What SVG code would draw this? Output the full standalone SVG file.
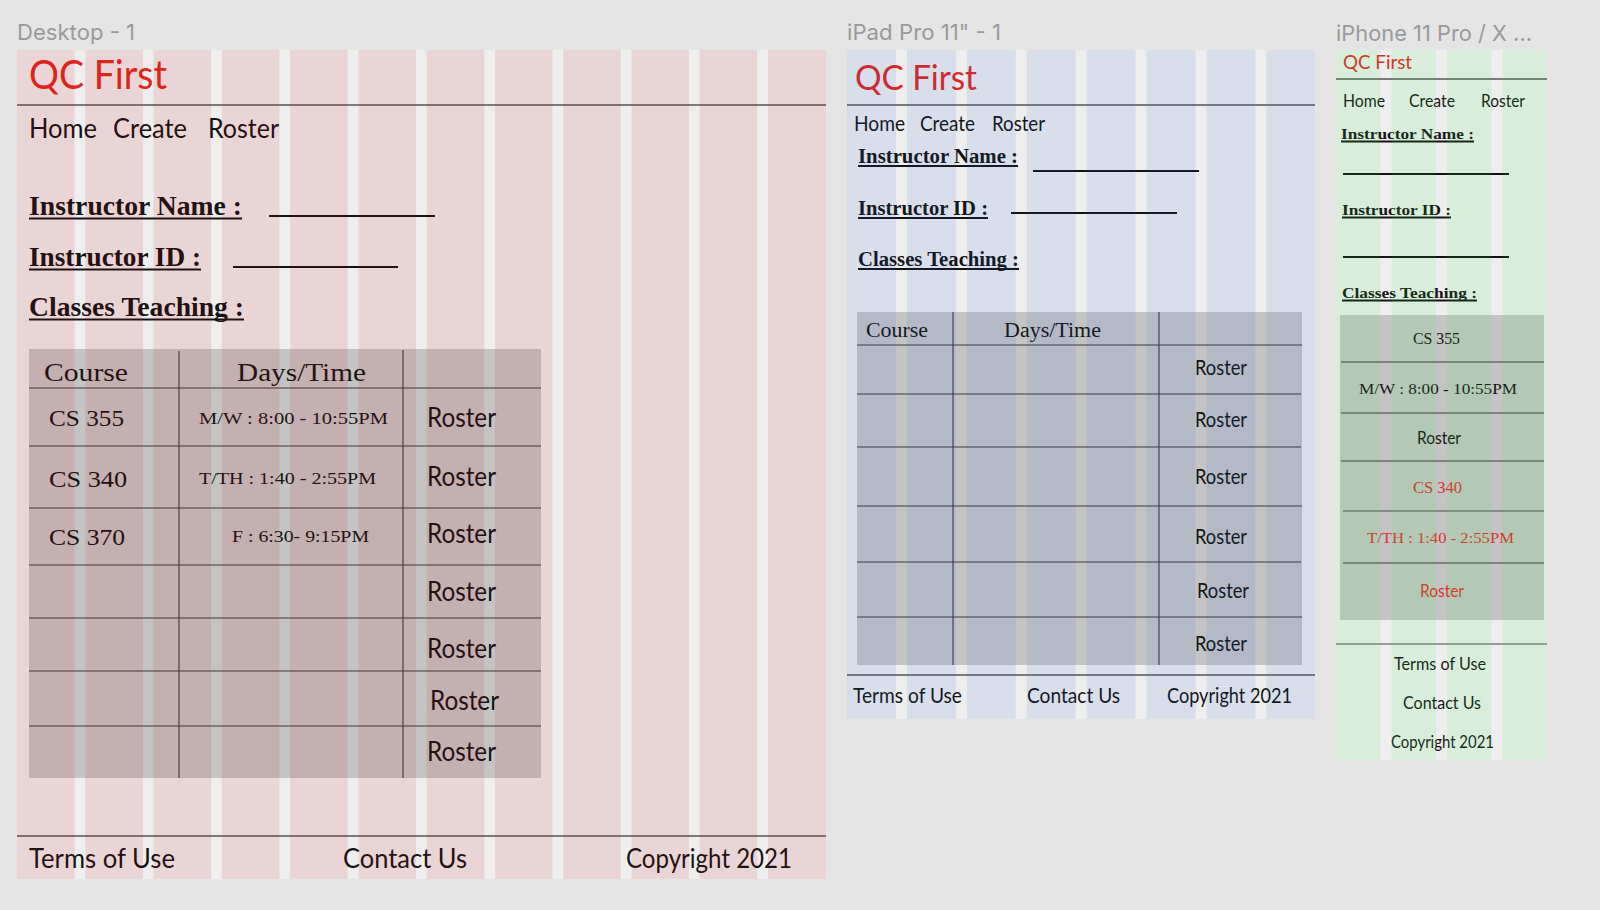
<svg xmlns="http://www.w3.org/2000/svg" width="1600" height="910" viewBox="0 0 1600 910">
<style>
.lbl{font-family:Inter,"Noto Sans",sans-serif;font-size:22px;fill:#9a9a9a}
.logo{font-family:Lato,"Open Sans",sans-serif;fill:#e0281e}
.sans{font-family:Lato,"Open Sans",sans-serif;fill:#141414}
.serif{font-family:"Liberation Serif","DejaVu Serif",serif;fill:#141414}
.b{font-weight:bold}
.red{fill:#d9342b}
.frame{fill:#eeeeee}
.tbl{fill:#c4c4c4}
.rule{stroke:#555;stroke-width:1.3}
.tl{stroke:#3e3a3a;stroke-width:1.1}
.ul{stroke:#141414;stroke-width:1.8}
.blank{stroke:#141414;stroke-width:2}
.colD{fill:#c40000;fill-opacity:0.1}
.colT{fill:#1a5ad0;fill-opacity:0.1}
.colP{fill:#2bf036;fill-opacity:0.1}
</style>
<rect width="1600" height="910" fill="#e5e5e5"/>

<!-- Desktop -->
<g id="desktop">
  <text class="lbl" x="17" y="40" textLength="118" lengthAdjust="spacingAndGlyphs">Desktop - 1</text>
  <rect class="frame" x="17" y="50" width="809" height="829"/>
  <g id="d-header">
    <text class="logo" x="29" y="89" font-size="40" textLength="138" lengthAdjust="spacingAndGlyphs">QC First</text>
    <line class="rule" x1="17" y1="105" x2="826" y2="105"/>
  </g>
  <g id="d-nav" class="sans" font-size="27">
    <text class="sans" x="29" y="138" textLength="68" lengthAdjust="spacingAndGlyphs">Home</text>
    <text class="sans" x="113" y="138" textLength="74" lengthAdjust="spacingAndGlyphs">Create</text>
    <text class="sans" x="208" y="138" textLength="71" lengthAdjust="spacingAndGlyphs">Roster</text>
  </g>
  <g id="d-form" font-size="27">
    <text class="serif b" x="29" y="215" textLength="213" lengthAdjust="spacingAndGlyphs">Instructor Name :</text>
    <line class="ul" x1="29" y1="218.5" x2="242" y2="218.5"/>
    <line class="blank" x1="269" y1="216" x2="435" y2="216"/>
    <text class="serif b" x="29" y="266" textLength="172" lengthAdjust="spacingAndGlyphs">Instructor ID :</text>
    <line class="ul" x1="29" y1="269.5" x2="201" y2="269.5"/>
    <line class="blank" x1="233" y1="267" x2="398" y2="267"/>
    <text class="serif b" x="29" y="316" textLength="215" lengthAdjust="spacingAndGlyphs">Classes Teaching :</text>
    <line class="ul" x1="29" y1="319.5" x2="244" y2="319.5"/>
  </g>
  <g id="d-table">
    <rect class="tbl" x="29" y="349" width="512" height="429"/>
    <line class="tl" x1="29" y1="388" x2="541" y2="388"/>
    <line class="tl" x1="29" y1="446" x2="541" y2="446"/>
    <line class="tl" x1="29" y1="508" x2="541" y2="508"/>
    <line class="tl" x1="29" y1="565" x2="541" y2="565"/>
    <line class="tl" x1="29" y1="618" x2="541" y2="618"/>
    <line class="tl" x1="29" y1="671" x2="541" y2="671"/>
    <line class="tl" x1="29" y1="726" x2="541" y2="726"/>
    <line class="tl" x1="179" y1="351" x2="179" y2="778"/>
    <line class="tl" x1="403" y1="350" x2="403" y2="778"/>
    <text class="serif" x="44" y="381" font-size="25" textLength="84" lengthAdjust="spacingAndGlyphs">Course</text>
    <text class="serif" x="237" y="381" font-size="25" textLength="129" lengthAdjust="spacingAndGlyphs">Days/Time</text>
    <text class="serif" x="49" y="426" font-size="24" textLength="75" lengthAdjust="spacingAndGlyphs">CS 355</text>
    <text class="serif" x="49" y="487" font-size="24" textLength="78" lengthAdjust="spacingAndGlyphs">CS 340</text>
    <text class="serif" x="49" y="545" font-size="24" textLength="76" lengthAdjust="spacingAndGlyphs">CS 370</text>
    <text class="serif" x="199" y="424" font-size="17" textLength="189" lengthAdjust="spacingAndGlyphs">M/W : 8:00 - 10:55PM</text>
    <text class="serif" x="199" y="484" font-size="17" textLength="177" lengthAdjust="spacingAndGlyphs">T/TH : 1:40 - 2:55PM</text>
    <text class="serif" x="232" y="542" font-size="17" textLength="137" lengthAdjust="spacingAndGlyphs">F : 6:30- 9:15PM</text>
    <g font-size="27">
      <text class="sans" x="427" y="427" textLength="69" lengthAdjust="spacingAndGlyphs">Roster</text>
      <text class="sans" x="427" y="486" textLength="69" lengthAdjust="spacingAndGlyphs">Roster</text>
      <text class="sans" x="427" y="543" textLength="69" lengthAdjust="spacingAndGlyphs">Roster</text>
      <text class="sans" x="427" y="601" textLength="69" lengthAdjust="spacingAndGlyphs">Roster</text>
      <text class="sans" x="427" y="658" textLength="69" lengthAdjust="spacingAndGlyphs">Roster</text>
      <text class="sans" x="430" y="710" textLength="69" lengthAdjust="spacingAndGlyphs">Roster</text>
      <text class="sans" x="427" y="761" textLength="69" lengthAdjust="spacingAndGlyphs">Roster</text>
    </g>
  </g>
  <g id="d-footer" font-size="27">
    <line class="rule" x1="17" y1="836" x2="826" y2="836"/>
    <text class="sans" x="29" y="868" textLength="146" lengthAdjust="spacingAndGlyphs">Terms of Use</text>
    <text class="sans" x="343" y="868" textLength="124" lengthAdjust="spacingAndGlyphs">Contact Us</text>
    <text class="sans" x="626" y="868" textLength="166" lengthAdjust="spacingAndGlyphs">Copyright 2021</text>
  </g>
  <g id="d-grid">
    <rect class="colD" x="17" y="50" width="57.6" height="829"/>
    <rect class="colD" x="85.3" y="50" width="57.6" height="829"/>
    <rect class="colD" x="153.5" y="50" width="57.6" height="829"/>
    <rect class="colD" x="221.8" y="50" width="57.6" height="829"/>
    <rect class="colD" x="290.1" y="50" width="57.6" height="829"/>
    <rect class="colD" x="358.4" y="50" width="57.6" height="829"/>
    <rect class="colD" x="426.6" y="50" width="57.6" height="829"/>
    <rect class="colD" x="494.9" y="50" width="57.6" height="829"/>
    <rect class="colD" x="563.2" y="50" width="57.6" height="829"/>
    <rect class="colD" x="631.4" y="50" width="57.6" height="829"/>
    <rect class="colD" x="699.7" y="50" width="57.6" height="829"/>
    <rect class="colD" x="768" y="50" width="58" height="829"/>
  </g>
</g>

<!-- iPad -->
<g id="ipad">
  <text class="lbl" x="847" y="40" textLength="154" lengthAdjust="spacingAndGlyphs">iPad Pro 11&quot; - 1</text>
  <rect class="frame" x="847" y="50" width="468" height="669"/>
  <g id="t-header">
    <text class="logo" x="855" y="90" font-size="35" textLength="122" lengthAdjust="spacingAndGlyphs">QC First</text>
    <line class="rule" x1="847" y1="105" x2="1315" y2="105"/>
  </g>
  <g id="t-nav" font-size="21">
    <text class="sans" x="854" y="131" textLength="51" lengthAdjust="spacingAndGlyphs">Home</text>
    <text class="sans" x="920" y="131" textLength="55" lengthAdjust="spacingAndGlyphs">Create</text>
    <text class="sans" x="992" y="131" textLength="53" lengthAdjust="spacingAndGlyphs">Roster</text>
  </g>
  <g id="t-form" font-size="20">
    <text class="serif b" x="858" y="163" textLength="160" lengthAdjust="spacingAndGlyphs">Instructor Name :</text>
    <line class="ul" x1="858" y1="166" x2="1018" y2="166"/>
    <line class="blank" x1="1033" y1="171" x2="1199" y2="171"/>
    <text class="serif b" x="858" y="215" textLength="130" lengthAdjust="spacingAndGlyphs">Instructor ID :</text>
    <line class="ul" x1="858" y1="218" x2="988" y2="218"/>
    <line class="blank" x1="1011" y1="213" x2="1177" y2="213"/>
    <text class="serif b" x="858" y="266" textLength="161" lengthAdjust="spacingAndGlyphs">Classes Teaching :</text>
    <line class="ul" x1="858" y1="269" x2="1019" y2="269"/>
  </g>
  <g id="t-table">
    <rect class="tbl" x="857" y="312" width="445" height="353"/>
    <line class="tl" x1="857" y1="345" x2="1302" y2="345"/>
    <line class="tl" x1="857" y1="394" x2="1301" y2="394"/>
    <line class="tl" x1="857" y1="447" x2="1301" y2="447"/>
    <line class="tl" x1="857" y1="506" x2="1302" y2="506"/>
    <line class="tl" x1="857" y1="562" x2="1301" y2="562"/>
    <line class="tl" x1="857" y1="617" x2="1302" y2="617"/>
    <line class="tl" x1="953" y1="312" x2="953" y2="665"/>
    <line class="tl" x1="1159" y1="312" x2="1159" y2="665"/>
    <text class="serif" x="866" y="337" font-size="20" textLength="62" lengthAdjust="spacingAndGlyphs">Course</text>
    <text class="serif" x="1004" y="337" font-size="20" textLength="97" lengthAdjust="spacingAndGlyphs">Days/Time</text>
    <g font-size="21">
      <text class="sans" x="1195" y="375" textLength="52" lengthAdjust="spacingAndGlyphs">Roster</text>
      <text class="sans" x="1195" y="427" textLength="52" lengthAdjust="spacingAndGlyphs">Roster</text>
      <text class="sans" x="1195" y="484" textLength="52" lengthAdjust="spacingAndGlyphs">Roster</text>
      <text class="sans" x="1195" y="544" textLength="52" lengthAdjust="spacingAndGlyphs">Roster</text>
      <text class="sans" x="1197" y="598" textLength="52" lengthAdjust="spacingAndGlyphs">Roster</text>
      <text class="sans" x="1195" y="651" textLength="52" lengthAdjust="spacingAndGlyphs">Roster</text>
    </g>
  </g>
  <g id="t-footer" font-size="21">
    <line class="rule" x1="847" y1="675" x2="1315" y2="675"/>
    <text class="sans" x="853" y="703" textLength="109" lengthAdjust="spacingAndGlyphs">Terms of Use</text>
    <text class="sans" x="1027" y="703" textLength="93" lengthAdjust="spacingAndGlyphs">Contact Us</text>
    <text class="sans" x="1167" y="703" textLength="125" lengthAdjust="spacingAndGlyphs">Copyright 2021</text>
  </g>
  <g id="t-grid">
    <rect class="colT" x="847" y="50" width="49" height="669"/>
    <rect class="colT" x="906.9" y="50" width="49" height="669"/>
    <rect class="colT" x="966.8" y="50" width="49" height="669"/>
    <rect class="colT" x="1026.7" y="50" width="49" height="669"/>
    <rect class="colT" x="1086.6" y="50" width="49" height="669"/>
    <rect class="colT" x="1146.5" y="50" width="49" height="669"/>
    <rect class="colT" x="1206.4" y="50" width="49" height="669"/>
    <rect class="colT" x="1266.3" y="50" width="48.7" height="669"/>
  </g>
</g>

<!-- iPhone -->
<g id="iphone">
  <text class="lbl" x="1336" y="41" textLength="196" lengthAdjust="spacingAndGlyphs">iPhone 11 Pro / X ...</text>
  <rect class="frame" x="1336" y="50" width="211" height="710"/>
  <g id="p-header">
    <text class="logo" x="1343" y="69" font-size="20" textLength="69" lengthAdjust="spacingAndGlyphs">QC First</text>
    <line class="rule" x1="1336" y1="79" x2="1547" y2="79"/>
  </g>
  <g id="p-nav" font-size="17">
    <text class="sans" x="1343" y="107" textLength="42" lengthAdjust="spacingAndGlyphs">Home</text>
    <text class="sans" x="1409" y="107" textLength="46" lengthAdjust="spacingAndGlyphs">Create</text>
    <text class="sans" x="1481" y="107" textLength="44" lengthAdjust="spacingAndGlyphs">Roster</text>
  </g>
  <g id="p-form" font-size="15">
    <text class="serif b" x="1341" y="139" textLength="133" lengthAdjust="spacingAndGlyphs">Instructor Name :</text>
    <line class="ul" x1="1341" y1="141.5" x2="1474" y2="141.5" stroke-width="1.5"/>
    <line class="blank" x1="1343" y1="174" x2="1509" y2="174"/>
    <text class="serif b" x="1342" y="215" textLength="109" lengthAdjust="spacingAndGlyphs">Instructor ID :</text>
    <line class="ul" x1="1342" y1="217.5" x2="1451" y2="217.5" stroke-width="1.5"/>
    <line class="blank" x1="1343" y1="257" x2="1509" y2="257"/>
    <text class="serif b" x="1342" y="298" textLength="135" lengthAdjust="spacingAndGlyphs">Classes Teaching :</text>
    <line class="ul" x1="1342" y1="300.5" x2="1477" y2="300.5" stroke-width="1.5"/>
  </g>
  <g id="p-table">
    <rect class="tbl" x="1340" y="315" width="204" height="305"/>
    <line class="tl" x1="1341" y1="362" x2="1544" y2="362"/>
    <line class="tl" x1="1341" y1="413" x2="1544" y2="413"/>
    <line class="tl" x1="1341" y1="461" x2="1544" y2="461"/>
    <line x1="1343" y1="511" x2="1544" y2="511" stroke="#6f7a70" stroke-width="1.6"/>
    <line class="tl" x1="1343" y1="563" x2="1544" y2="563"/>
    <text class="serif" x="1413" y="344" font-size="16" textLength="47" lengthAdjust="spacingAndGlyphs">CS 355</text>
    <text class="serif" x="1359" y="394" font-size="15" textLength="158" lengthAdjust="spacingAndGlyphs">M/W : 8:00 - 10:55PM</text>
    <text class="sans" x="1417" y="444" font-size="17" textLength="44" lengthAdjust="spacingAndGlyphs">Roster</text>
    <text class="serif red" x="1413" y="493" font-size="16" textLength="49" lengthAdjust="spacingAndGlyphs">CS 340</text>
    <text class="serif red" x="1367" y="543" font-size="15" textLength="147" lengthAdjust="spacingAndGlyphs">T/TH : 1:40 - 2:55PM</text>
    <text class="sans red" x="1420" y="597" font-size="17" textLength="44" lengthAdjust="spacingAndGlyphs">Roster</text>
  </g>
  <g id="p-footer" font-size="17">
    <line x1="1336" y1="644" x2="1547" y2="644" stroke="#9a9a9a" stroke-width="1.8"/>
    <text class="sans" x="1394" y="670" textLength="92" lengthAdjust="spacingAndGlyphs">Terms of Use</text>
    <text class="sans" x="1403" y="709" textLength="78" lengthAdjust="spacingAndGlyphs">Contact Us</text>
    <text class="sans" x="1391" y="748" textLength="103" lengthAdjust="spacingAndGlyphs">Copyright 2021</text>
  </g>
  <g id="p-grid">
    <rect class="colP" x="1336" y="50" width="44.5" height="710"/>
    <rect class="colP" x="1391.5" y="50" width="44.5" height="710"/>
    <rect class="colP" x="1447" y="50" width="44.5" height="710"/>
    <rect class="colP" x="1502.5" y="50" width="44.5" height="710"/>
  </g>
</g>
</svg>
